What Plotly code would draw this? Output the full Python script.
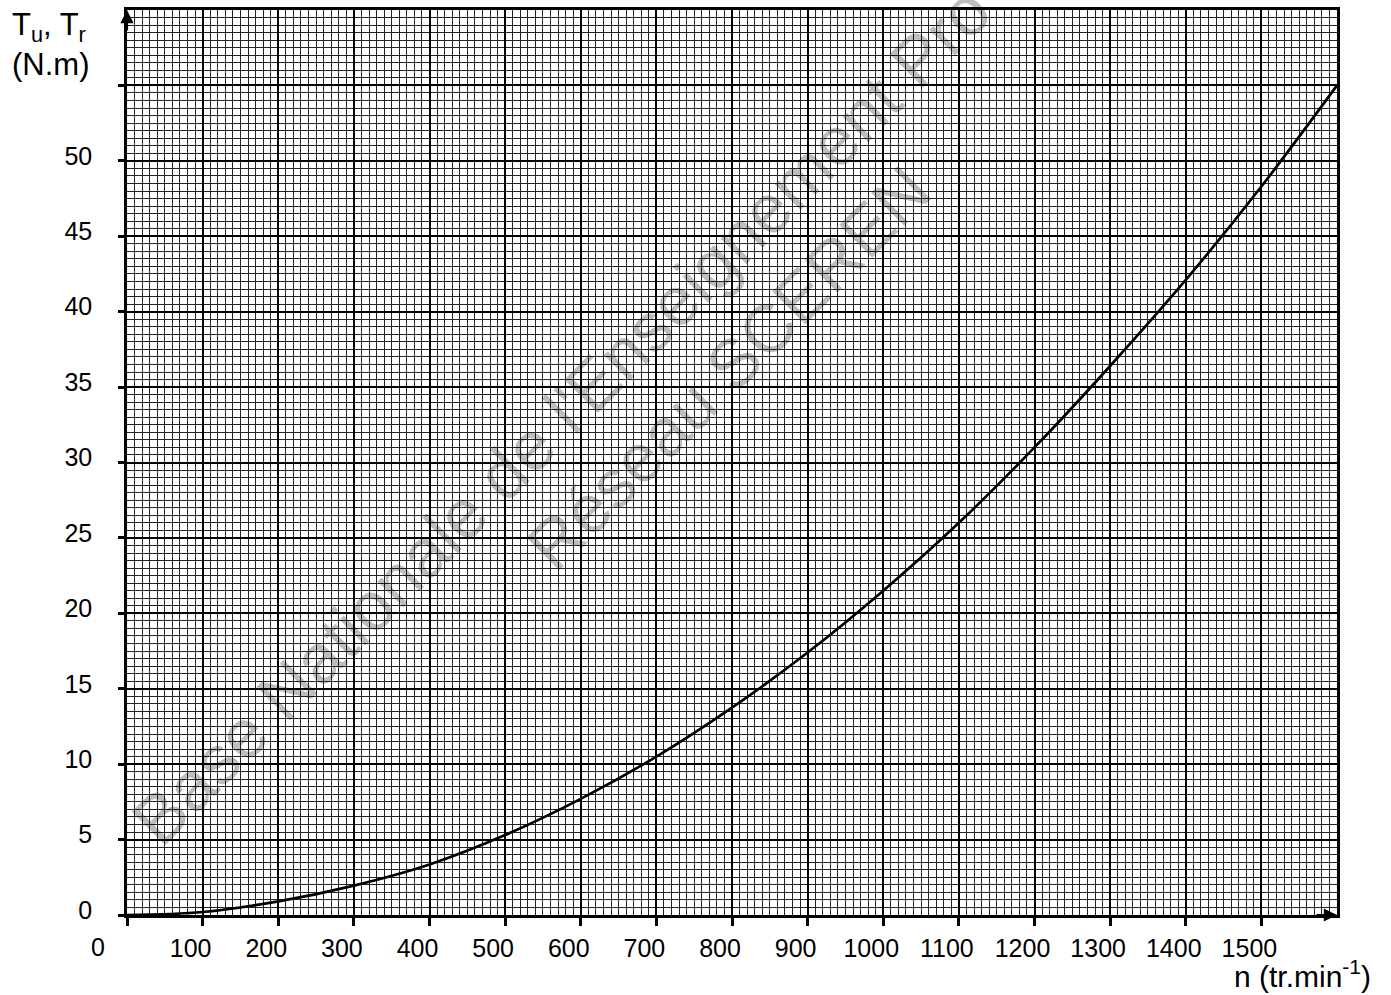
import plotly.graph_objects as go

# Data
speed_n = [0, 100, 200, 300, 400, 500, 600, 700, 800, 900, 1000, 1100, 1200, 1300, 1400, 1500, 1600]
torque_T = [0, 0.2, 0.9, 1.95, 3.35, 5.3, 7.7, 10.5, 13.75, 17.4, 21.5, 26.0, 31.0, 36.4, 42.1, 48.3, 55.0]

x_tickvals = [0, 100, 200, 300, 400, 500, 600, 700, 800, 900, 1000, 1100, 1200, 1300, 1400, 1500]
x_ticktext = ["", "100", "200", "300", "400", "500", "600", "700", "800", "900", "1000", "1100", "1200", "1300", "1400", "1500"]
y_tickvals = [0, 5, 10, 15, 20, 25, 30, 35, 40, 45, 50, 55]
y_ticktext = ["0", "5", "10", "15", "20", "25", "30", "35", "40", "45", "50", ""]

FONT = "Liberation Sans, Arial, Helvetica, sans-serif"

fig = go.Figure()
fig.add_trace(go.Scatter(
    x=speed_n, y=torque_T, mode="lines",
    line=dict(color="black", width=2.7, shape="spline", smoothing=1.0),
    hoverinfo="skip", showlegend=False,
))

fig.update_layout(
    width=1391, height=995,
    margin=dict(l=127, r=54, t=7, b=80),
    paper_bgcolor="white", plot_bgcolor="white",
    font=dict(family=FONT, color="black", size=25),
    showlegend=False,
)

fig.update_xaxes(
    range=[0, 1600], tickmode="array", tickvals=x_tickvals, ticktext=x_ticktext,
    showgrid=True, gridcolor="black", gridwidth=2,
    minor=dict(dtick=10, showgrid=True, gridcolor="rgb(35,35,35)", gridwidth=1),
    showline=True, linecolor="black", linewidth=2.5, mirror=True,
    ticks="outside", ticklen=8, tickwidth=2.5, tickcolor="black",
    tickfont=dict(size=25, family=FONT, color="black"),
    ticklabelshift=-12, ticklabelstandoff=1,
    zeroline=False, fixedrange=True,
)
fig.update_yaxes(
    range=[0, 60], tickmode="array", tickvals=y_tickvals, ticktext=y_ticktext,
    showgrid=True, gridcolor="black", gridwidth=2,
    minor=dict(dtick=0.5, showgrid=True, gridcolor="rgb(35,35,35)", gridwidth=1),
    showline=True, linecolor="black", linewidth=2.5, mirror=True,
    ticks="outside", ticklen=6, tickwidth=2.5, tickcolor="black",
    tickfont=dict(size=25, family=FONT, color="black"),
    ticklabelshift=-5, ticklabelstandoff=21,
    zeroline=False, fixedrange=True,
)

annotations = [
    # axis arrows
    dict(x=1600, y=0, xref="x", yref="y", ax=-22, ay=0, text="", showarrow=True,
         arrowhead=2, arrowsize=1.2, arrowwidth=2.2, arrowcolor="black"),
    dict(x=0, y=60, xref="x", yref="y", ax=0, ay=22, text="", showarrow=True,
         arrowhead=2, arrowsize=1.2, arrowwidth=2.2, arrowcolor="black"),
    # origin label
    dict(x=0, y=0, xref="x", yref="y", text="0", showarrow=False,
         xshift=-29, yshift=-32, font=dict(size=25, family=FONT, color="black")),
    # axis titles
    dict(x=-0.0967, y=1.0055, xref="paper", yref="paper", xanchor="left", yanchor="top",
         text="T<sub>u</sub>, T<sub>r</sub><br>(N.m)", showarrow=False, align="left",
         font=dict(size=31, family=FONT, color="black")),
    dict(x=1.0298, y=-0.0655, xref="paper", yref="paper", xanchor="right", yanchor="middle",
         text="n (tr.min<sup>-1</sup>)", showarrow=False,
         font=dict(size=30, family=FONT, color="black")),
    # watermark
    dict(x=0.3595, y=0.5518, xref="paper", yref="paper", xanchor="center", yanchor="middle",
         text="Base Nationale de l'Enseignement Pro", showarrow=False, textangle=-45,
         font=dict(size=69, family=FONT, color="rgba(0,0,0,0.26)")),
    dict(x=0.4967, y=0.6046, xref="paper", yref="paper", xanchor="center", yanchor="middle",
         text="Réseau SCEREN", showarrow=False, textangle=-45,
         font=dict(size=68, family=FONT, color="rgba(0,0,0,0.26)")),
]
fig.update_layout(annotations=annotations)

fig.write_html("out.html")
